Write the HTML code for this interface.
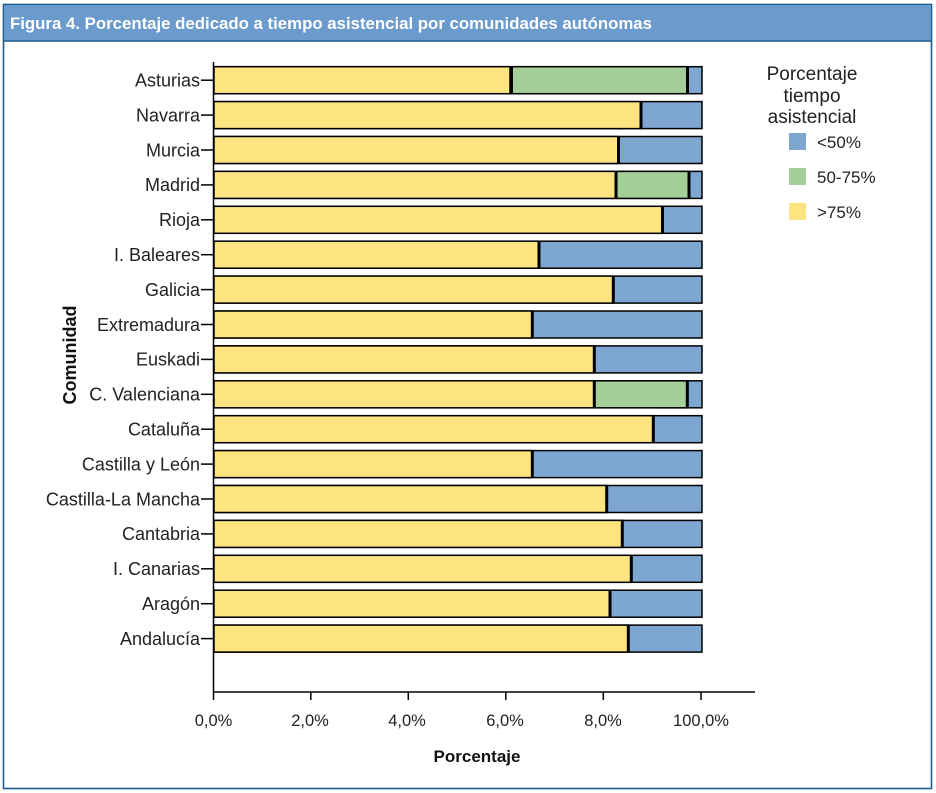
<!DOCTYPE html>
<html><head><meta charset="utf-8"><style>
html,body{margin:0;padding:0;background:#fff;}
svg{display:block;}
text{font-family:"Liberation Sans",sans-serif;}
</style></head><body>
<svg width="936" height="793" viewBox="0 0 936 793" xmlns="http://www.w3.org/2000/svg">
<rect x="0" y="0" width="936" height="793" fill="#fff"/>
<!-- frame -->
<rect x="3.5" y="4.5" width="928" height="784" fill="#fff" stroke="#1c5a8f" stroke-width="1.6"/>
<rect x="4" y="5" width="927" height="36" fill="#6a9bcc"/>
<line x1="3.5" y1="41" x2="931.5" y2="41" stroke="#1c5a8f" stroke-width="1.5"/>
<text x="10" y="29" font-size="17" font-weight="bold" fill="#fff" textLength="642" lengthAdjust="spacingAndGlyphs">Figura 4.  Porcentaje dedicado a tiempo asistencial por comunidades autónomas</text>

<!-- axes -->
<g stroke="#000" stroke-width="1.5" fill="none">
<line x1="213.5" y1="62" x2="213.5" y2="692.5"/>
<line x1="213" y1="692" x2="755" y2="692"/>
<line x1="213.5" y1="692" x2="213.5" y2="700"/>
<line x1="310.8" y1="692" x2="310.8" y2="700"/>
<line x1="408.3" y1="692" x2="408.3" y2="700"/>
<line x1="505.8" y1="692" x2="505.8" y2="700"/>
<line x1="603.3" y1="692" x2="603.3" y2="700"/>
<line x1="701" y1="692" x2="701" y2="700"/>
</g>
<g font-size="16.5" fill="#222" text-anchor="middle">
<text x="213.5" y="726">0,0%</text>
<text x="310" y="726">2,0%</text>
<text x="407" y="726">4,0%</text>
<text x="505" y="726">6,0%</text>
<text x="603" y="726">8,0%</text>
<text x="701" y="726">100,0%</text>
</g>
<text x="477" y="762" font-size="17" font-weight="bold" fill="#111" text-anchor="middle">Porcentaje</text>
<text transform="translate(76,355) rotate(-90)" font-size="18" font-weight="bold" fill="#111" text-anchor="middle">Comunidad</text>

<!-- legend -->
<g font-size="19" fill="#222" text-anchor="middle">
<text x="812" y="80">Porcentaje</text>
<text x="812" y="102">tiempo</text>
<text x="812" y="123">asistencial</text>
</g>
<rect x="789" y="133" width="17" height="17" fill="#7da6d0"/>
<rect x="789" y="168" width="17" height="17" fill="#a5cf98"/>
<rect x="789" y="203" width="17" height="17" fill="#fde481"/>
<g font-size="17" fill="#222">
<text x="817" y="148">&lt;50%</text>
<text x="817" y="183">50-75%</text>
<text x="817" y="218">&gt;75%</text>
</g>

<g stroke="#000">
<!-- Asturias -->
<rect x="214" y="66.7" width="488" height="27" fill="#7da6d0" stroke-width="1.5"/>
<rect x="214" y="66.7" width="296" height="27" fill="#fde481" stroke-width="1.5"/>
<rect x="511.5" y="66.7" width="176" height="27" fill="#a5cf98" stroke-width="1.5"/>
<line x1="511.5" y1="66.7" x2="511.5" y2="93.7" stroke-width="3"/>
<line x1="687.5" y1="66.7" x2="687.5" y2="93.7" stroke-width="3"/>
<!-- Navarra -->
<rect x="214" y="101.6" width="488" height="27" fill="#7da6d0" stroke-width="1.5"/>
<rect x="214" y="101.6" width="427" height="27" fill="#fde481" stroke-width="1.5"/>
<line x1="641" y1="101.6" x2="641" y2="128.6" stroke-width="3"/>
<!-- Murcia -->
<rect x="214" y="136.5" width="488" height="27" fill="#7da6d0" stroke-width="1.5"/>
<rect x="214" y="136.5" width="404" height="27" fill="#fde481" stroke-width="1.5"/>
<line x1="618.5" y1="136.5" x2="618.5" y2="163.5" stroke-width="3"/>
<!-- Madrid -->
<rect x="214" y="171.4" width="488" height="27" fill="#7da6d0" stroke-width="1.5"/>
<rect x="214" y="171.4" width="402" height="27" fill="#fde481" stroke-width="1.5"/>
<rect x="616" y="171.4" width="73" height="27" fill="#a5cf98" stroke-width="1.5"/>
<line x1="616" y1="171.4" x2="616" y2="198.4" stroke-width="3"/>
<line x1="689" y1="171.4" x2="689" y2="198.4" stroke-width="3"/>
<!-- Rioja -->
<rect x="214" y="206.3" width="488" height="27" fill="#7da6d0" stroke-width="1.5"/>
<rect x="214" y="206.3" width="448.5" height="27" fill="#fde481" stroke-width="1.5"/>
<line x1="662.5" y1="206.3" x2="662.5" y2="233.3" stroke-width="3"/>
<!-- I. Baleares -->
<rect x="214" y="241.2" width="488" height="27" fill="#7da6d0" stroke-width="1.5"/>
<rect x="214" y="241.2" width="325" height="27" fill="#fde481" stroke-width="1.5"/>
<line x1="539" y1="241.2" x2="539" y2="268.2" stroke-width="3"/>
<!-- Galicia -->
<rect x="214" y="276.1" width="488" height="27" fill="#7da6d0" stroke-width="1.5"/>
<rect x="214" y="276.1" width="399" height="27" fill="#fde481" stroke-width="1.5"/>
<line x1="613.3" y1="276.1" x2="613.3" y2="303.1" stroke-width="3"/>
<!-- Extremadura -->
<rect x="214" y="311" width="488" height="27" fill="#7da6d0" stroke-width="1.5"/>
<rect x="214" y="311" width="318" height="27" fill="#fde481" stroke-width="1.5"/>
<line x1="532.3" y1="311" x2="532.3" y2="338" stroke-width="3"/>
<!-- Euskadi -->
<rect x="214" y="345.9" width="488" height="27" fill="#7da6d0" stroke-width="1.5"/>
<rect x="214" y="345.9" width="380" height="27" fill="#fde481" stroke-width="1.5"/>
<line x1="594.3" y1="345.9" x2="594.3" y2="372.9" stroke-width="3"/>
<!-- C. Valenciana -->
<rect x="214" y="380.8" width="488" height="27" fill="#7da6d0" stroke-width="1.5"/>
<rect x="214" y="380.8" width="380" height="27" fill="#fde481" stroke-width="1.5"/>
<rect x="594.3" y="380.8" width="93" height="27" fill="#a5cf98" stroke-width="1.5"/>
<line x1="594.3" y1="380.8" x2="594.3" y2="407.8" stroke-width="3"/>
<line x1="687.3" y1="380.8" x2="687.3" y2="407.8" stroke-width="3"/>
<!-- Cataluña -->
<rect x="214" y="415.7" width="488" height="27" fill="#7da6d0" stroke-width="1.5"/>
<rect x="214" y="415.7" width="439" height="27" fill="#fde481" stroke-width="1.5"/>
<line x1="653.3" y1="415.7" x2="653.3" y2="442.7" stroke-width="3"/>
<!-- Castilla y León -->
<rect x="214" y="450.6" width="488" height="27" fill="#7da6d0" stroke-width="1.5"/>
<rect x="214" y="450.6" width="318" height="27" fill="#fde481" stroke-width="1.5"/>
<line x1="532.3" y1="450.6" x2="532.3" y2="477.6" stroke-width="3"/>
<!-- Castilla-La Mancha -->
<rect x="214" y="485.5" width="488" height="27" fill="#7da6d0" stroke-width="1.5"/>
<rect x="214" y="485.5" width="392.7" height="27" fill="#fde481" stroke-width="1.5"/>
<line x1="606.7" y1="485.5" x2="606.7" y2="512.5" stroke-width="3"/>
<!-- Cantabria -->
<rect x="214" y="520.4" width="488" height="27" fill="#7da6d0" stroke-width="1.5"/>
<rect x="214" y="520.4" width="408.3" height="27" fill="#fde481" stroke-width="1.5"/>
<line x1="622.3" y1="520.4" x2="622.3" y2="547.4" stroke-width="3"/>
<!-- I. Canarias -->
<rect x="214" y="555.3" width="488" height="27" fill="#7da6d0" stroke-width="1.5"/>
<rect x="214" y="555.3" width="417.3" height="27" fill="#fde481" stroke-width="1.5"/>
<line x1="631.3" y1="555.3" x2="631.3" y2="582.3" stroke-width="3"/>
<!-- Aragón -->
<rect x="214" y="590.2" width="488" height="27" fill="#7da6d0" stroke-width="1.5"/>
<rect x="214" y="590.2" width="396" height="27" fill="#fde481" stroke-width="1.5"/>
<line x1="610" y1="590.2" x2="610" y2="617.2" stroke-width="3"/>
<!-- Andalucía -->
<rect x="214" y="625.1" width="488" height="27" fill="#7da6d0" stroke-width="1.5"/>
<rect x="214" y="625.1" width="414.3" height="27" fill="#fde481" stroke-width="1.5"/>
<line x1="628.3" y1="625.1" x2="628.3" y2="652.1" stroke-width="3"/>
</g>

<!-- y ticks -->
<g stroke="#000" stroke-width="1.5">
<line x1="201" y1="80.2" x2="213" y2="80.2"/>
<line x1="201" y1="115.1" x2="213" y2="115.1"/>
<line x1="201" y1="150" x2="213" y2="150"/>
<line x1="201" y1="184.9" x2="213" y2="184.9"/>
<line x1="201" y1="219.8" x2="213" y2="219.8"/>
<line x1="201" y1="254.7" x2="213" y2="254.7"/>
<line x1="201" y1="289.6" x2="213" y2="289.6"/>
<line x1="201" y1="324.5" x2="213" y2="324.5"/>
<line x1="201" y1="359.4" x2="213" y2="359.4"/>
<line x1="201" y1="394.3" x2="213" y2="394.3"/>
<line x1="201" y1="429.2" x2="213" y2="429.2"/>
<line x1="201" y1="464.1" x2="213" y2="464.1"/>
<line x1="201" y1="499" x2="213" y2="499"/>
<line x1="201" y1="533.9" x2="213" y2="533.9"/>
<line x1="201" y1="568.8" x2="213" y2="568.8"/>
<line x1="201" y1="603.7" x2="213" y2="603.7"/>
<line x1="201" y1="638.6" x2="213" y2="638.6"/>
</g>
<g font-size="18" fill="#222" text-anchor="end">
<text x="200" y="86.5">Asturias</text>
<text x="200" y="121.4">Navarra</text>
<text x="200" y="156.3">Murcia</text>
<text x="200" y="191.2">Madrid</text>
<text x="200" y="226.1">Rioja</text>
<text x="200" y="261">I. Baleares</text>
<text x="200" y="295.9">Galicia</text>
<text x="200" y="330.8">Extremadura</text>
<text x="200" y="365.7">Euskadi</text>
<text x="200" y="400.6">C. Valenciana</text>
<text x="200" y="435.5">Cataluña</text>
<text x="200" y="470.4">Castilla y León</text>
<text x="200" y="505.3">Castilla-La Mancha</text>
<text x="200" y="540.2">Cantabria</text>
<text x="200" y="575.1">I. Canarias</text>
<text x="200" y="610">Aragón</text>
<text x="200" y="644.9">Andalucía</text>
</g>
</svg>
</body></html>
